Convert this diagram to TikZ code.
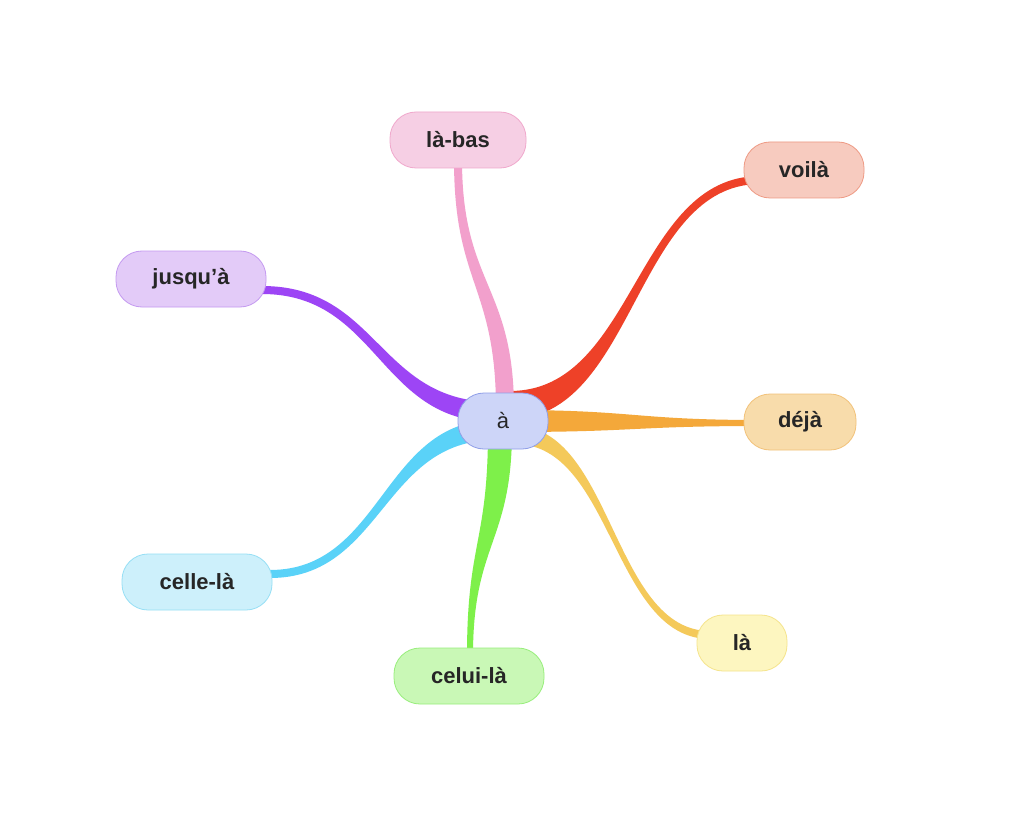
\documentclass[tikz,border=0pt]{standalone}
\usepackage{fontspec}
\setmainfont{Liberation Sans}
\definecolor{cA}{HTML}{CDD5F8}\definecolor{bA}{HTML}{8F9EE8}
\definecolor{cLB}{HTML}{F6CFE4}\definecolor{bLB}{HTML}{F0A8CC}\definecolor{lLB}{HTML}{F2A0CC}
\definecolor{cV}{HTML}{F7CBBF}\definecolor{bV}{HTML}{EE9A84}\definecolor{lV}{HTML}{EE4128}
\definecolor{cJ}{HTML}{E3CBF8}\definecolor{bJ}{HTML}{C49AF0}\definecolor{lJ}{HTML}{9D45F5}
\definecolor{cD}{HTML}{F8DCAB}\definecolor{bD}{HTML}{F2C27A}\definecolor{lD}{HTML}{F4A83A}
\definecolor{cCe}{HTML}{CDF0FB}\definecolor{bCe}{HTML}{96DFF5}\definecolor{lCe}{HTML}{5AD2F8}
\definecolor{cCu}{HTML}{C9F8B6}\definecolor{bCu}{HTML}{98EE7C}\definecolor{lCu}{HTML}{7EF04A}
\definecolor{cL}{HTML}{FDF6C0}\definecolor{bL}{HTML}{F5E48C}\definecolor{lL}{HTML}{F4C95A}
% horizontal-tangent branch: color, sx, sy, ex, ey, w0, w1
\newcommand\hbr[7]{\path[fill=#1] ({#2},{#3+#6}) .. controls ({(#2+#4)/2},{#3+#6}) and ({(#2+#4)/2},{#5+#7}) .. ({#4},{#5+#7}) -- ({#4},{#5-#7}) .. controls ({(#2+#4)/2},{#5-#7}) and ({(#2+#4)/2},{#3-#6}) .. ({#2},{#3-#6}) -- cycle;}
% vertical-tangent branch
\newcommand\vbr[7]{\path[fill=#1] ({#2+#6},{#3}) .. controls ({#2+#6},{(#3+#5)/2}) and ({#4+#7},{(#3+#5)/2}) .. ({#4+#7},{#5}) -- ({#4-#7},{#5}) .. controls ({#4-#7},{(#3+#5)/2}) and ({#2-#6},{(#3+#5)/2}) .. ({#2-#6},{#3}) -- cycle;}
\tikzset{nd/.style={rounded corners=26pt,minimum height=56pt,line width=0.8pt,font=\fontsize{22}{26}\selectfont\bfseries,text=black!85}}
\begin{document}
\begin{tikzpicture}[x=1pt,y=-1pt]
\useasboundingbox[fill=white] (0,0) rectangle (1024,826);
\hbr{lV}{510}{405}{760}{180}{14}{4}
\hbr{lD}{510}{421}{760}{423}{11}{3}
\hbr{lL}{515}{435}{710}{635}{9}{4}
\hbr{lCe}{495}{430}{270}{574}{10}{4}
\hbr{lJ}{495}{412}{262}{290}{10}{4}
\vbr{lLB}{505}{410}{458}{160}{9}{4}
\vbr{lCu}{500}{430}{470}{655}{12}{3}
\node[nd,fill=cA,draw=bA,minimum width=90pt,font=\fontsize{22}{26}\selectfont] (a) at (503,421) {à};
\node[nd,fill=cLB,draw=bLB,minimum width=136pt] (lb) at (458,140) {là-bas};
\node[nd,fill=cV,draw=bV,minimum width=120pt] (v) at (804,170) {voilà};
\node[nd,fill=cJ,draw=bJ,minimum width=150pt] (j) at (191,279) {jusqu'à};
\node[nd,fill=cD,draw=bD,minimum width=112pt] (d) at (800,422) {déjà};
\node[nd,fill=cCe,draw=bCe,minimum width=150pt] (ce) at (197,582) {celle-là};
\node[nd,fill=cCu,draw=bCu,minimum width=150pt] (cu) at (469,676) {celui-là};
\node[nd,fill=cL,draw=bL,minimum width=90pt] (l) at (742,643) {là};
\end{tikzpicture}
\end{document}
